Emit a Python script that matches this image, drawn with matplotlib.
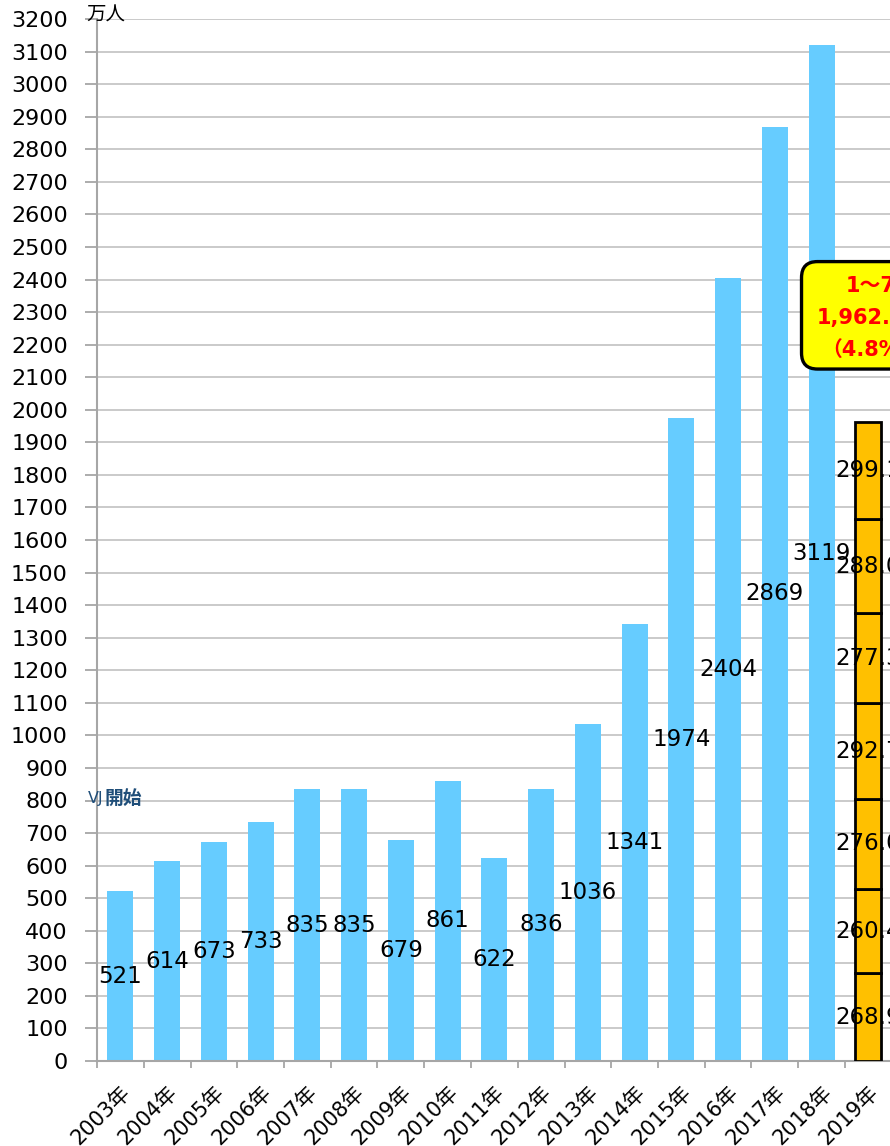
import matplotlib
matplotlib.use("Agg")
import matplotlib.pyplot as plt
from matplotlib.patches import FancyBboxPatch
from matplotlib.transforms import IdentityTransform
import numpy as np

plt.rcParams['font.family'] = ['DejaVu Sans', 'Noto Sans CJK JP']

# Annual visitor arrivals (10,000 persons)
years = ["2003年", "2004年", "2005年", "2006年", "2007年", "2008年", "2009年",
         "2010年", "2011年", "2012年", "2013年", "2014年", "2015年", "2016年",
         "2017年", "2018年", "2019年"]
annual_values = [521, 614, 673, 733, 835, 835, 679, 861, 622, 836, 1036,
                 1341, 1974, 2404, 2869, 3119]
# 2019 monthly figures, January to July
monthly_2019 = [268.9, 260.4, 276.0, 292.7, 277.3, 288.0, 299.1]
summary_lines = ["1～7月", "1,962.4万人", "（4.8%増）"]

BLUE = "#66CCFF"
ORANGE = "#FFC000"
GRID = "#C6C6C6"
AXIS = "#A6A6A6"

fig = plt.figure(figsize=(8.9, 11.46), dpi=100)
ax = fig.add_axes([97 / 890, 85 / 1146, 794.75 / 890, 1042 / 1146])

n = len(years)
x = np.arange(n)
bar_w = 0.56

blue = ax.bar(x[:len(annual_values)], annual_values, width=bar_w, color=BLUE,
              zorder=2)
ax.bar_label(blue, labels=[str(v) for v in annual_values], label_type='center',
             fontsize=16.5, color='black', zorder=5)

bottom = 0.0
for v in monthly_2019:
    seg = ax.bar([x[-1]], [v], bottom=bottom, width=bar_w, color=ORANGE,
                 edgecolor='black', linewidth=2.0, zorder=3)
    ax.bar_label(seg, labels=[f"{v:.1f}"], label_type='center', fontsize=16.5,
                 color='black', zorder=5)
    bottom += v

ax.set_xlim(-0.5, n - 0.5)
ax.set_ylim(0, 3200)
ax.set_yticks(np.arange(0, 3201, 100))
ax.tick_params(axis='y', labelsize=16, length=9, width=1.3, color=AXIS, pad=12)
ax.yaxis.grid(True, color=GRID, linewidth=1.3, zorder=0)
ax.set_axisbelow(True)

ax.set_xticks(x)
ax.set_xticklabels(years, rotation=45, ha='right', va='top',
                   rotation_mode='anchor', fontsize=15)
ax.tick_params(axis='x', which='major', length=0, pad=15)
ax.set_xticks(np.arange(-0.5, n - 0.5, 1.0), minor=True)
ax.tick_params(axis='x', which='minor', length=5, width=1.3, color=AXIS)

for s in ('top', 'right'):
    ax.spines[s].set_visible(False)
for s in ('left', 'bottom'):
    ax.spines[s].set_color(AXIS)
    ax.spines[s].set_linewidth(1.5)

fig.text(86 / 890, 1 - 15 / 1146, "万人", fontsize=14, ha='left', va='center')
fig.text(88 / 890, 1 - 798 / 1146, "VJ", fontsize=11.5, color='#1F4E79',
         ha='left', va='center')
fig.text(105 / 890, 1 - 798 / 1146, "開始", fontsize=13.5, fontweight='bold',
         color='#1F4E79', ha='left', va='center')

# Yellow call-out box summarising January-July 2019
fig.canvas.draw()
x0, y0 = ax.transData.transform((14.57, 2125))
x1, y1 = ax.transData.transform((17.8, 2455))
box = FancyBboxPatch((x0, y0), x1 - x0, y1 - y0,
                     boxstyle="round,pad=0,rounding_size=16",
                     transform=IdentityTransform(), facecolor='#FFFF00',
                     edgecolor='black', linewidth=2.4, zorder=6, clip_on=False)
fig.patches.append(box)
cx = x0 + 80
for i, line in enumerate(summary_lines):
    ty = y1 - 24 - i * 32
    fig.text(cx / 890, ty / 1146, line, fontsize=15, fontweight='bold',
             color='#FF0000', ha='center', va='center', zorder=7)

fig.savefig("out.png", dpi=100)
